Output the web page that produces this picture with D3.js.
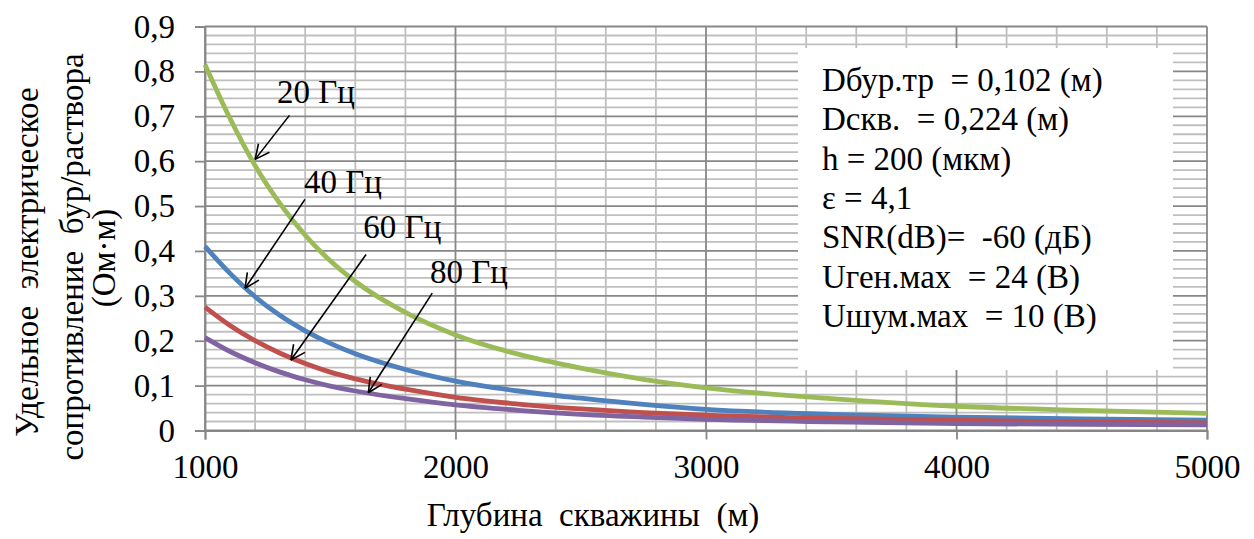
<!DOCTYPE html>
<html>
<head>
<meta charset="utf-8">
<script src="https://cdn.jsdelivr.net/npm/d3@7"></script>
<style>
  body { margin: 0; background: #fff; }
</style>
</head>
<body>
<svg id="chart" width="1254" height="539"></svg>
<script>
// Well depth (m)
const depths = [1000, 1100, 1200, 1300, 1400, 1500, 1600, 1800, 2000, 2250, 2500, 2750, 3000, 3500, 4000, 4500, 5000];
// Mud resistivity (Ohm·m) for each frequency
const rho20 = [0.815, 0.695, 0.590, 0.505, 0.435, 0.378, 0.332, 0.263, 0.213, 0.170, 0.139, 0.114, 0.095, 0.071, 0.054, 0.045, 0.038];
const rho40 = [0.410, 0.350, 0.298, 0.256, 0.222, 0.194, 0.171, 0.136, 0.110, 0.088, 0.072, 0.058, 0.047, 0.036, 0.030, 0.026, 0.023];
const rho60 = [0.275, 0.234, 0.200, 0.172, 0.149, 0.130, 0.115, 0.092, 0.074, 0.059, 0.048, 0.040, 0.034, 0.027, 0.023, 0.019, 0.017];
const rho80 = [0.207, 0.176, 0.151, 0.130, 0.113, 0.099, 0.088, 0.071, 0.057, 0.045, 0.036, 0.030, 0.025, 0.019, 0.0155, 0.0135, 0.0125];

const xTicks = [1000, 2000, 3000, 4000, 5000];
const yTicks = [0, 0.1, 0.2, 0.3, 0.4, 0.5, 0.6, 0.7, 0.8, 0.9];
const yTickLabels = ["0", "0,1", "0,2", "0,3", "0,4", "0,5", "0,6", "0,7", "0,8", "0,9"];

// Series in drawing order
const seriesNames = ["40 Гц", "60 Гц", "20 Гц", "80 Гц"];
const seriesValues = [rho40, rho60, rho20, rho80];
const seriesColors = ["#4F81BD", "#C0504D", "#9BBB59", "#8064A2"];

// Frequency callouts: label anchor and arrow (start -> tip) in data units
const calloutText = ["20 Гц", "40 Гц", "60 Гц", "80 Гц"];
const calloutLabel = [[1287, 0.729], [1395, 0.529], [1632, 0.428], [1898, 0.329]];
const calloutFrom = [[1337, 0.702], [1399, 0.515], [1643, 0.392], [1907, 0.306]];
const calloutTo = [[1200, 0.604], [1160, 0.317], [1343, 0.157], [1652, 0.084]];

const noteLines = [
  "Dбур.тр  = 0,102 (м)",
  "Dскв.  = 0,224 (м)",
  "h = 200 (мкм)",
  "ε = 4,1",
  "SNR(dB)=  -60 (дБ)",
  "Uген.мах  = 24 (В)",
  "Uшум.мах  = 10 (В)"
];

const FONT = 33;
const SERIF = '"Liberation Serif", "Times New Roman", Tinos, "DejaVu Serif", serif';
const svg = d3.select("#chart");
const styleText = sel => sel
  .style("font-family", SERIF)
  .style("font-size", FONT + "px")
  .style("white-space", "pre")
  .attr("fill", "#000");

const x = d3.scaleLinear().domain([1000, 5000]).range([205, 1207]);
const y = d3.scaleLinear().domain([0, 0.9]).range([430.5, 26.5]);

// Minor grid
const minorX = d3.range(1200, 5000, 200).filter(v => v % 1000 !== 0);
const minorY = d3.range(1, 45).filter(i => i % 5 !== 0).map(i => i * 0.02);
const grid = svg.append("g");
grid.selectAll(".mx").data(minorX).join("line")
  .attr("x1", d => x(d)).attr("x2", d => x(d))
  .attr("y1", y(0)).attr("y2", y(0.9))
  .attr("stroke", "#bfbfbf").attr("stroke-width", 1.8);
grid.selectAll(".my").data(minorY).join("line")
  .attr("x1", x(1000)).attr("x2", x(5000))
  .attr("y1", d => y(d)).attr("y2", d => y(d))
  .attr("stroke", "#bfbfbf").attr("stroke-width", 1.8);
// Major grid
grid.selectAll(".Mx").data(xTicks).join("line")
  .attr("x1", d => x(d)).attr("x2", d => x(d))
  .attr("y1", y(0)).attr("y2", y(0.9))
  .attr("stroke", "#878787").attr("stroke-width", 1.8);
grid.selectAll(".My").data(yTicks).join("line")
  .attr("x1", x(1000)).attr("x2", x(5000))
  .attr("y1", d => y(d)).attr("y2", d => y(d))
  .attr("stroke", "#878787").attr("stroke-width", 1.8);

// Axes
const yAxis = svg.append("g").attr("transform", `translate(${x(1000)},0)`)
  .call(d3.axisLeft(y).tickValues(yTicks).tickFormat((d, i) => yTickLabels[i]).tickSize(10).tickPadding(20));
const xAxis = svg.append("g").attr("transform", `translate(0,${y(0)})`)
  .call(d3.axisBottom(x).tickValues(xTicks).tickFormat(d => String(d)).tickSize(9).tickPadding(15));
[yAxis, xAxis].forEach(a => {
  a.attr("font-family", null).attr("font-size", null);
  a.select(".domain").attr("stroke", "#878787").attr("stroke-width", 1.8);
  a.selectAll(".tick line").attr("stroke", "#878787").attr("stroke-width", 1.8);
  a.selectAll(".tick text").call(styleText);
});
xAxis.selectAll(".tick text").attr("dy", "0.71em");

// Note box
svg.append("rect").attr("x", 798).attr("y", 48).attr("width", 375).attr("height", 322).attr("fill", "#fff");
svg.append("g").selectAll("text").data(noteLines).join("text")
  .attr("x", 822).attr("y", (d, i) => 91 + i * 39.3)
  .text(d => d).call(styleText);

// Curves
const line = d3.line().x(d => x(d[0])).y(d => y(d[1])).curve(d3.curveMonotoneX);
svg.append("g").selectAll("path").data(seriesValues).join("path")
  .attr("d", vals => line(depths.map((dp, i) => [dp, vals[i]])))
  .attr("fill", "none")
  .attr("stroke", (d, i) => seriesColors[i])
  .attr("stroke-width", 4.8)
  .attr("stroke-linejoin", "round");

// Callouts
const ann = svg.append("g");
calloutText.forEach((t, i) => {
  ann.append("text").attr("x", x(calloutLabel[i][0])).attr("y", y(calloutLabel[i][1]))
    .text(t).call(styleText);
  const x1 = x(calloutFrom[i][0]), y1 = y(calloutFrom[i][1]);
  const x2 = x(calloutTo[i][0]), y2 = y(calloutTo[i][1]);
  ann.append("line").attr("x1", x1).attr("y1", y1).attr("x2", x2).attr("y2", y2)
    .attr("stroke", "#000").attr("stroke-width", 1.6);
  const ang = Math.atan2(y1 - y2, x1 - x2);
  const len = 16, spread = 0.45;
  [ang - spread, ang + spread].forEach(a => {
    ann.append("line").attr("x1", x2).attr("y1", y2)
      .attr("x2", x2 + len * Math.cos(a)).attr("y2", y2 + len * Math.sin(a))
      .attr("stroke", "#000").attr("stroke-width", 1.6);
  });
});

// Axis titles
svg.append("text").attr("x", 593).attr("y", 526).attr("text-anchor", "middle")
  .text("Глубина  скважины  (м)").call(styleText);
const yTitle = ["Удельное  электрическое", "сопротивление  бур/раствора", "(Ом·м)"];
const yTitleBase = [38, 83, 115];
const yTitleMid = [262, 257, 258];
yTitle.forEach((t, i) => {
  svg.append("text")
    .attr("transform", `translate(${yTitleBase[i]},${yTitleMid[i]}) rotate(-90)`)
    .attr("text-anchor", "middle").text(t).call(styleText);
});
</script>
</body>
</html>
